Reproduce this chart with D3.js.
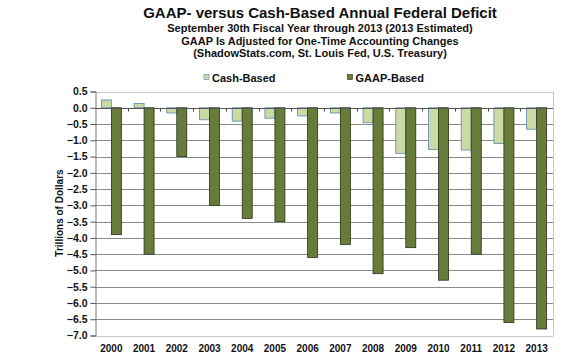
<!DOCTYPE html>
<html><head><meta charset="utf-8">
<script src="https://cdn.jsdelivr.net/npm/d3@7"></script>
<style>body{margin:0;background:#fff}svg{display:block}text{font-family:"Liberation Sans",Arial,sans-serif;font-weight:bold;fill:#111}</style>
</head><body>
<script>
const years = ["2000","2001","2002","2003","2004","2005","2006","2007","2008","2009","2010","2011","2012","2013"];
const cashBased = [0.24,0.13,-0.16,-0.37,-0.41,-0.32,-0.25,-0.16,-0.46,-1.40,-1.28,-1.30,-1.10,-0.66];
const gaapBased = [-3.9,-4.5,-1.5,-3.0,-3.4,-3.5,-4.6,-4.2,-5.1,-4.3,-5.3,-4.5,-6.6,-6.8];
const seriesNames = ["Cash-Based","GAAP-Based"];
const yTicks = [0.5,0.0,-0.5,-1.0,-1.5,-2.0,-2.5,-3.0,-3.5,-4.0,-4.5,-5.0,-5.5,-6.0,-6.5,-7.0];
const titleLines = ["GAAP- versus Cash-Based Annual Federal Deficit",
  "September 30th Fiscal Year through 2013 (2013 Estimated)",
  "GAAP Is Adjusted for One-Time Accounting Changes",
  "(ShadowStats.com, St. Louis Fed, U.S. Treasury)"];
const yTitle = "Trillions of Dollars";

const W=563,H=357;
const svg=d3.select("body").append("svg").attr("width",W).attr("height",H);
const L=95,R=553,T=91.5,B=335.5;
const x=d3.scaleBand().domain(years).range([L,R]).padding(0);
const xs=d3.scaleBand().domain(seriesNames).range([0,x.bandwidth()]).paddingInner(0).paddingOuter(0.635);
const y=d3.scaleLinear().domain([-7,0.5]).range([B,T]);

// gridlines
svg.append("g").selectAll("line").data(yTicks).join("line")
  .attr("x1",L).attr("x2",R).attr("y1",d=>Math.round(y(d))+0.5).attr("y2",d=>Math.round(y(d))+0.5)
  .attr("stroke",d=>(d===0.5||d===-7)?"#c8c8c8":"#8a8a8a").attr("stroke-width",1);
// right border
svg.append("line").attr("x1",R+0.5).attr("x2",R+0.5).attr("y1",T).attr("y2",B).attr("stroke","#c8c8c8");

// y axis
const yAxis=svg.append("g").attr("transform",`translate(${L+0.5},0)`)
  .call(d3.axisLeft(y).tickValues(yTicks).tickFormat(d3.format(".1f")).tickSize(5).tickPadding(3));
yAxis.select(".domain").attr("stroke","#777");
yAxis.selectAll(".tick line").attr("stroke","#555");
yAxis.selectAll("text").style("font-size","10.5px").attr("fill","#111");

// bars
const data=years.map((yr,i)=>({yr,vals:[{s:seriesNames[0],v:cashBased[i]},{s:seriesNames[1],v:gaapBased[i]}]}));
const g=svg.append("g");
g.selectAll("g").data(data).join("g").attr("transform",d=>`translate(${x(d.yr)},0)`)
 .selectAll("rect").data(d=>d.vals).join("rect")
 .attr("x",d=>xs(d.s)).attr("width",xs.bandwidth())
 .attr("y",d=>y(Math.max(0,d.v))).attr("height",d=>Math.abs(y(d.v)-y(0)))
 .attr("fill",d=>d.s===seriesNames[0]?"#cbdaa3":"#687c3a")
 .attr("stroke",d=>d.s===seriesNames[0]?"#5b87b8":"#2b2f1c").attr("stroke-width",0.8);

// zero axis
const y0=Math.round(y(0))+0.5;
svg.append("line").attr("x1",L).attr("x2",R).attr("y1",y0).attr("y2",y0).attr("stroke","#555");
svg.append("g").selectAll("line").data(years.slice(1)).join("line")
  .attr("x1",d=>Math.round(x(d))+0.5).attr("x2",d=>Math.round(x(d))+0.5).attr("y1",y0).attr("y2",y0+3).attr("stroke","#444");

// x labels
svg.append("g").selectAll("text").data(years).join("text")
  .attr("x",d=>x(d)+x.bandwidth()/2).attr("y",351.5).attr("text-anchor","middle")
  .style("font-size","10px").text(d=>d);

// y title
svg.append("text").attr("transform","translate(63,213) rotate(-90)").attr("text-anchor","middle")
  .style("font-size","10px").text(yTitle);

// titles
const tSizes=[15,11,11,11], tY=[18,31.5,45,56.5];
svg.append("g").selectAll("text").data(titleLines).join("text")
  .attr("x",320).attr("y",(d,i)=>tY[i]).attr("text-anchor","middle")
  .style("font-size",(d,i)=>tSizes[i]+"px").text(d=>d);

// legend
const leg=[{s:seriesNames[0],x:204},{s:seriesNames[1],x:347.5}];
const lg=svg.append("g").selectAll("g").data(leg).join("g").attr("transform",d=>`translate(${d.x},0)`);
lg.append("rect").attr("x",0).attr("y",74.5).attr("width",5).attr("height",5)
  .attr("fill",d=>d.s===seriesNames[0]?"#cbdaa3":"#687c3a")
  .attr("stroke",d=>d.s===seriesNames[0]?"#5b87b8":"#2b2f1c").attr("stroke-width",0.6);
lg.append("text").attr("x",8).attr("y",81.5).style("font-size","11px").text(d=>d.s);
</script>
</body></html>
